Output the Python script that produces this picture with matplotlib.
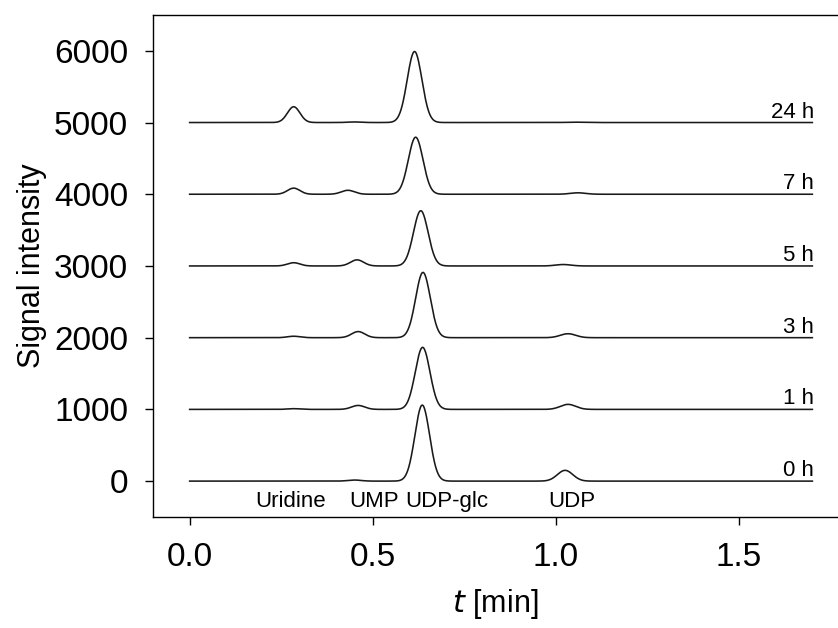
import numpy as np
import matplotlib.pyplot as plt

plt.rcParams['font.family'] = ['Liberation Sans', 'DejaVu Sans']

# sampling times (h), stacked from bottom to top
time_labels = ['0 h', '1 h', '3 h', '5 h', '7 h', '24 h']
offsets = [0, 1000, 2000, 3000, 4000, 5000]

# peak table: retention time [min], height, width (sigma) [min]
# order: Uridine, UMP, UDP-glc, UDP
uridine_t = [0.284, 0.284, 0.284, 0.284, 0.284, 0.284]
uridine_h = [0, 10, 20, 45, 85, 220]
ump_t = [0.45, 0.46, 0.46, 0.457, 0.432, 0.45]
ump_h = [15, 55, 85, 85, 55, 8]
udpglc_t = [0.635, 0.636, 0.637, 0.631, 0.617, 0.614]
udpglc_h = [1060, 865, 910, 770, 795, 990]
udp_t = [1.025, 1.033, 1.033, 1.02, 1.06, 1.05]
udp_h = [150, 70, 55, 20, 20, 5]
peak_sigma = [0.017, 0.018, 0.02, 0.021]

compounds = ['Uridine', 'UMP', 'UDP-glc', 'UDP']
compound_x = [0.276, 0.503, 0.701, 1.044]

t = np.linspace(0, 1.70, 1200)


def trace(i):
    y = np.zeros_like(t)
    peaks = [(uridine_t[i], uridine_h[i]), (ump_t[i], ump_h[i]),
             (udpglc_t[i], udpglc_h[i]), (udp_t[i], udp_h[i])]
    for (rt, h), s in zip(peaks, peak_sigma):
        y += h * np.exp(-0.5 * ((t - rt) / s) ** 2)
    return y


fig = plt.figure(figsize=(8.38, 6.28), dpi=100)
ax = fig.add_axes([0.1826, 0.1768, 0.8174, 0.7994])

for i, off in enumerate(offsets):
    ax.plot(t, trace(i) + off, color='#1a1a1a', lw=1.15)
    ax.text(1.705, off + 70, time_labels[i], ha='right', va='baseline', fontsize=16)

for name, x in zip(compounds, compound_x):
    ax.text(x, -280, name, ha='center', va='center', fontsize=16)

ax.set_xlim(-0.1, 1.77)
ax.set_ylim(-500, 6500)
ax.set_xticks([0.0, 0.5, 1.0, 1.5])
ax.set_xticklabels(['0.0', '0.5', '1.0', '1.5'])
ax.set_yticks([0, 1000, 2000, 3000, 4000, 5000, 6000])
ax.spines['right'].set_visible(False)
for sp in ['left', 'bottom', 'top']:
    ax.spines[sp].set_linewidth(1.0)
ax.tick_params(axis='both', direction='out', length=6, width=1.0, labelsize=24)
ax.tick_params(axis='y', pad=12)
ax.tick_params(axis='x', pad=12)
ax.set_xlabel('$t$ [min]', fontsize=22, labelpad=10)
ax.set_ylabel('Signal intensity', fontsize=22, labelpad=5)

fig.savefig('out.png', dpi=100)
